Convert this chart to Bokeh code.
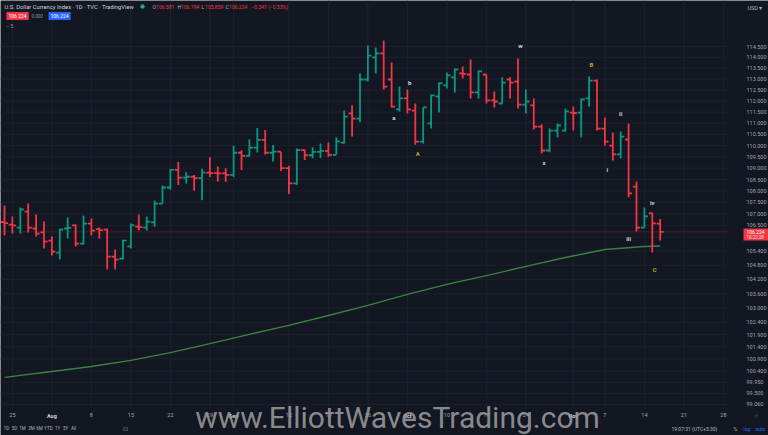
import math
import pandas as pd
from bokeh.plotting import figure
from bokeh.models import (Range1d, FixedTicker, PrintfTickFormatter, Label, ColumnDataSource,
                          LinearAxis)
from bokeh.embed import file_html
from bokeh.resources import INLINE

# ---------------- data (U.S. Dollar Index, daily) ----------------
dates = pd.bdate_range("2022-07-22", "2022-11-16")
opens = [106.65, 106.54, 106.41, 107.10, 106.37, 106.20, 105.85, 105.34, 106.37, 106.50,
         105.72, 106.58, 106.34, 106.32, 105.17, 105.08, 105.60, 106.45, 106.41, 106.63,
         107.45, 108.15, 108.92, 108.58, 108.62, 108.56, 108.80, 108.78, 108.77, 108.70,
         109.68, 109.54, 109.91, 110.25, 109.68, 109.73, 109.00, 108.33, 109.80, 109.57,
         109.72, 109.76, 109.59, 110.13, 111.44, 111.21, 112.98, 114.00, 114.18, 112.98,
         111.62, 112.12, 111.57, 110.18, 110.99, 112.21, 112.71, 113.08, 113.26, 113.21,
         112.39, 113.21, 112.03, 111.89, 112.98, 112.89, 111.84, 111.80, 110.85, 109.78,
         110.67, 110.67, 111.48, 111.48, 112.12, 112.93, 110.76, 110.00, 109.61, 110.27,
         108.19, 106.41, 107.02, 106.581]
highs = [107.36, 106.89, 107.28, 107.45, 106.97, 106.67, 106.03, 106.37, 106.84, 106.54,
         106.93, 106.80, 106.41, 106.37, 105.47, 105.89, 106.58, 106.97, 106.89, 107.58,
         108.24, 108.97, 109.27, 108.82, 108.70, 108.97, 109.48, 109.07, 109.00, 109.99,
         109.79, 110.27, 110.79, 110.69, 110.02, 109.73, 109.10, 109.87, 109.83, 109.92,
         110.09, 110.14, 110.37, 111.57, 111.80, 113.26, 114.55, 114.45, 114.78, 113.76,
         112.66, 112.52, 111.89, 111.71, 112.30, 112.84, 113.30, 113.49, 113.58, 113.90,
         113.40, 113.21, 112.43, 113.08, 113.08, 113.95, 112.52, 112.12, 110.95, 110.76,
         110.99, 111.66, 111.75, 112.12, 113.12, 112.98, 111.26, 110.58, 110.63, 110.99,
         108.41, 107.28, 107.06, 106.784]
lows = [106.07, 106.15, 106.15, 106.20, 106.03, 105.51, 105.21, 105.04, 105.94, 105.60,
        105.68, 106.07, 105.94, 104.62, 104.62, 105.04, 105.51, 106.28, 106.28, 106.45,
        107.45, 108.05, 108.26, 108.33, 108.02, 107.59, 108.61, 108.41, 108.40, 108.61,
        108.92, 109.50, 109.69, 109.60, 109.29, 108.87, 107.87, 108.26, 109.36, 109.44,
        109.45, 109.50, 109.60, 110.09, 110.40, 111.04, 112.89, 113.26, 112.52, 111.71,
        111.53, 111.44, 110.04, 110.09, 110.76, 111.48, 112.57, 112.39, 113.03, 112.12,
        112.12, 111.89, 111.71, 111.89, 112.12, 111.66, 111.44, 110.72, 109.65, 109.70,
        110.36, 110.63, 110.67, 110.36, 111.75, 110.67, 110.00, 109.34, 109.43, 107.72,
        106.24, 106.41, 105.34, 105.859]
closes = [106.60, 106.50, 107.19, 106.41, 106.15, 105.81, 105.38, 106.32, 106.40, 105.72,
          106.58, 106.28, 106.30, 105.17, 105.04, 105.85, 106.50, 106.43, 106.67, 107.45,
          108.15, 108.92, 108.58, 108.62, 108.56, 108.80, 108.78, 108.77, 108.70, 109.68,
          109.54, 109.91, 110.25, 109.68, 109.73, 109.00, 108.33, 109.80, 109.57, 109.72,
          109.76, 109.59, 110.19, 111.30, 111.21, 112.98, 114.08, 114.18, 112.66, 111.75,
          112.12, 111.62, 110.18, 111.71, 112.26, 112.80, 113.17, 113.44, 113.24, 112.39,
          113.35, 112.03, 111.98, 112.84, 112.84, 111.84, 111.98, 110.85, 109.78, 110.67,
          110.90, 111.53, 111.46, 112.07, 112.93, 110.76, 110.18, 109.61, 110.40, 107.89,
          106.41, 106.89, 106.59, 106.224]

# 200-day moving average, read at selected sessions
ma_dates = ["2022-07-22", "2022-08-01", "2022-08-08", "2022-08-15", "2022-08-22", "2022-08-29",
            "2022-09-05", "2022-09-12", "2022-09-19", "2022-09-26", "2022-10-03", "2022-10-10",
            "2022-10-17", "2022-10-24", "2022-10-31", "2022-11-07", "2022-11-14", "2022-11-16"]
ma_values = [100.15, 100.39, 100.59, 100.84, 101.16, 101.53, 101.91, 102.28, 102.69, 103.11,
             103.57, 103.99, 104.36, 104.75, 105.13, 105.47, 105.60, 105.62]

# time-axis labels
tick_dates = ["2022-07-25", "2022-08-01", "2022-08-08", "2022-08-15", "2022-08-22", "2022-08-29",
              "2022-09-01", "2022-09-12", "2022-09-19", "2022-09-26", "2022-10-03", "2022-10-10",
              "2022-10-17", "2022-10-24", "2022-11-01", "2022-11-07", "2022-11-14", "2022-11-21",
              "2022-11-28"]
tick_text = ["25", "Aug", "8", "15", "22", "29", "Sep", "12", "19", "26", "Oct", "10", "17", "24",
             "Nov", "7", "14", "21", "28"]

# price-axis labels
price_ticks = [114.5, 114.0, 113.5, 113.0, 112.5, 112.0, 111.5, 111.0, 110.5, 110.0, 109.5,
               109.0, 108.5, 108.0, 107.5, 107.0, 106.5, 105.4, 104.8, 104.2, 103.6, 103.0,
               102.4, 101.9, 101.4, 100.9, 100.4, 99.95, 99.5, 99.06]
grid_prices = price_ticks + [106.0]
last_price = 106.224

# header legend values
legend_items = [("O", "106.581"), ("H", "106.784"), ("L", "105.859"), ("C", "106.224")]
change_text = "−0.347 (−0.33%)"

# Elliott wave labels: (text, session, price, colour)
waves = [("b", "2022-10-03", 112.84, "w"), ("a", "2022-09-29", 111.26, "w"),
         ("A", "2022-10-04", 109.65, "y"), ("w", "2022-10-21", 114.55, "w"),
         ("x", "2022-10-26", 109.25, "w"), ("B", "2022-11-03", 113.67, "y"),
         ("ii", "2022-11-09", 111.44, "w"), ("i", "2022-11-07", 108.94, "w"),
         ("iv", "2022-11-15", 107.50, "w"), ("iii", "2022-11-10", 105.95, "w"),
         ("C", "2022-11-15", 104.62, "y")]

# ---------------- helpers ----------------
all_days = pd.bdate_range("2022-07-22", "2022-12-02")
def pos(d):
    return int(all_days.get_loc(pd.Timestamp(d)))

# window-pixel helpers (price pane is 727 x 408 px, 7.9 px per session, log price scale)
def X(px):
    return (px - 4.0) / 7.9
def Y(py):
    return 114.5 * math.exp(-(py - 46.0) / 2471.0)
def PY(price):
    return 46.0 + 2471.0 * math.log(114.5 / price)

W, H = 768, 435
PANE_R, PANE_B = 727, 408
BG = "#131722"
UP = "#089981"
DOWN = "#f23645"
GRID = "#1d212d"
AXTXT = "#a3a6af"
FONT = "Roboto"

p = figure(width=W, height=H, x_range=Range1d(X(0), X(W)), y_range=Range1d(Y(H), Y(0)),
           y_axis_type="log", y_axis_location="right", output_backend="svg",
           toolbar_location=None, background_fill_color=BG, border_fill_color=BG,
           min_border_left=0, min_border_top=0, min_border_right=0, min_border_bottom=0)
p.outline_line_color = None
p.xgrid.visible = False
p.ygrid.visible = False

xt = [pos(d) for d in tick_dates]
day_ticks = [t for t, s in zip(xt, tick_text) if s.isdigit()]
mon_ticks = [t for t, s in zip(xt, tick_text) if not s.isdigit()]
labels_map = {t: s for t, s in zip(xt, tick_text)}

# grid of the price pane
p.segment(x0=[X(0)] * len(grid_prices), y0=grid_prices, x1=[X(PANE_R)] * len(grid_prices),
          y1=grid_prices, line_color=GRID, line_width=1)
p.segment(x0=xt, y0=[Y(PANE_B)] * len(xt), x1=xt, y1=[Y(0)] * len(xt),
          line_color=GRID, line_width=1)

def style_axis(ax, standoff, color=AXTXT, bold=False):
    ax.axis_line_color = None
    ax.major_tick_line_color = None
    ax.minor_tick_line_color = None
    ax.major_tick_out = 0
    ax.minor_tick_out = 0
    ax.major_tick_in = 0
    ax.minor_tick_in = 0
    ax.major_label_standoff = standoff
    ax.major_label_text_font = FONT
    ax.major_label_text_font_size = "5.5px"
    ax.major_label_text_color = color
    if bold:
        ax.major_label_text_font_style = "bold"

# time axis (day numbers), fixed at the bottom of the price pane
xa = p.xaxis[0]
xa.ticker = FixedTicker(ticks=day_ticks)
xa.major_label_overrides = {t: labels_map[t] for t in day_ticks}
xa.fixed_location = Y(PANE_B)
style_axis(xa, 4)

# month names, bold
ma = LinearAxis(ticker=FixedTicker(ticks=mon_ticks),
                major_label_overrides={t: labels_map[t] for t in mon_ticks},
                fixed_location=Y(PANE_B))
style_axis(ma, 4, color="#d1d4dc", bold=True)
p.add_layout(ma, "below")

# price axis
ya = p.yaxis[0]
ya.ticker = FixedTicker(ticks=price_ticks)
ya.formatter = PrintfTickFormatter(format="%.3f")
ya.fixed_location = X(PANE_R)
style_axis(ya, 19)

# 200-day MA
p.line([pos(d) for d in ma_dates], ma_values, line_color="#3f8f43", line_width=1.4, line_alpha=0.9)

# last price line
p.segment(x0=[X(0)], y0=[last_price], x1=[X(PANE_R)], y1=[last_price], line_color=DOWN,
          line_alpha=0.45, line_width=1, line_dash="1 1")

# OHLC bars
idx = list(range(len(dates)))
src = ColumnDataSource(dict(
    x=idx, o=opens, h=highs, l=lows, c=closes,
    xl=[i - 0.45 for i in idx], xr=[i + 0.45 for i in idx],
    col=[UP if c >= o else DOWN for o, c in zip(opens, closes)]))
p.segment(x0="x", y0="l", x1="x", y1="h", line_color="col", line_width=1.8, source=src)
p.segment(x0="xl", y0="o", x1="x", y1="o", line_color="col", line_width=1.8, source=src)
p.segment(x0="x", y0="c", x1="xr", y1="c", line_color="col", line_width=1.8, source=src)

# wave labels
for t, d, pr, c in waves:
    p.add_layout(Label(x=pos(d) + (0.3 if len(t) == 1 else 0), y=pr, text=t,
                       text_color="#d1d4dc" if c == "w" else "#c9a227",
                       text_font=FONT, text_font_size="6px", text_font_style="bold",
                       text_align="center", text_baseline="middle"))

def put(text, px, py, color="#d1d4dc", size="5.5px", align="left", bg=None, style="normal",
        alpha=1.0, pad=0):
    kw = dict(text=text, text_color=color, text_font=FONT, text_font_size=size,
              text_align=align, text_baseline="middle", text_font_style=style, text_alpha=alpha)
    try:
        lab = Label(x=px, y=py, x_units="canvas", y_units="canvas", **kw)
    except Exception:
        lab = Label(x=px, y=H - py, x_units="screen", y_units="screen", **kw)
    if bg is not None:
        lab.background_fill_color = bg
        lab.padding = pad
    p.add_layout(lab)

# header
put("U.S. Dollar Currency Index · 1D · TVC · TradingView", 4, 6, "#d1d4dc", "5.8px")
p.scatter([X(142)], [Y(6)], size=3.5, color="#22ab94")
for (letter, val), px in zip(legend_items, [152, 177, 201, 225]):
    put(letter, px, 6, "#b2b5be", "5px")
    put(val, px + 3.6, 6, DOWN, "5px")
put(change_text, 251, 6, DOWN, "5px")
put("106.224", 6, 15.5, "#ffffff", "5px", bg=DOWN, pad=2)
put("0.000", 31, 15.5, "#9598a1", "4.5px")
put("106.224", 48, 15.5, "#ffffff", "5px", bg="#2962ff", pad=2)
put("⌐ 5", 6, 25, "#9598a1", "5px")
put("USD ▾", 747, 7, "#b2b5be", "5.5px")

# price box on the axis (follows the last price)
lp = PY(last_price)
p.quad(left=[X(743)], right=[X(W)], top=[Y(lp - 3.5)], bottom=[Y(lp + 8.5)], fill_color=DOWN,
       line_color=None)
put("106.224", 746, lp + 0.3, "#ffffff", "5px")
put("10:22:28", 746, lp + 5.6, "#ffffff", "4.5px", alpha=0.85)

# bottom bar
for t, px in [("1D", 6), ("5D", 14), ("1M", 22), ("3M", 31), ("6M", 39), ("YTD", 48),
              ("1Y", 57), ("5Y", 65), ("All", 73)]:
    put(t, px, 428, "#b2b5be", "4.5px", align="center")
put("⊡", 125, 428, "#9598a1", "6px", align="center")
put("○", 754, 415, "#9598a1", "6px")
put("19:07:31 (UTC+5:30)", 671, 428, "#b2b5be", "5px")
put("%", 733, 428, "#b2b5be", "5px")
put("log", 743, 428, "#2962ff", "5px")
put("auto", 755, 428, "#2962ff", "5px")

# watermark
put("www.ElliottWavesTrading.com", 397, 417, "#9a9a9a", "30px", align="center", alpha=0.9)

open("out.html", "w").write(file_html(p, INLINE))
